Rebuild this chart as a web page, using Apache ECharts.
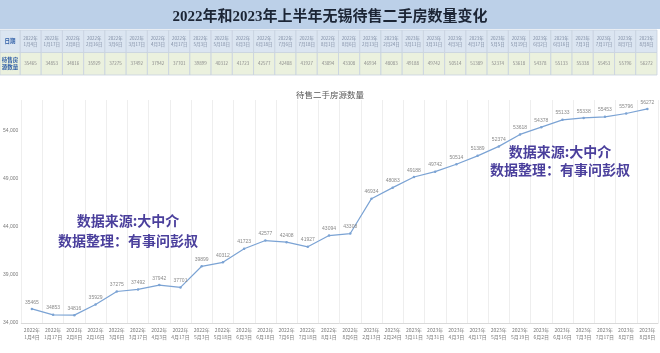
<!DOCTYPE html>
<html>
<head>
<meta charset="utf-8">
<script src="https://cdn.jsdelivr.net/npm/echarts@6/dist/echarts.min.js"></script>
<style>html,body{margin:0;padding:0;background:#fff}#c{width:660px;height:353px}</style>
</head>
<body>
<div id="c"></div>
<script>
const dates = ['2022年1月4日','2022年1月17日','2022年2月8日','2022年2月16日','2022年3月6日','2022年3月17日','2022年4月3日','2022年4月17日','2022年5月3日','2022年5月18日','2022年6月3日','2022年6月18日','2022年7月6日','2022年7月18日','2022年8月1日','2022年8月6日','2023年2月13日','2023年2月24日','2023年3月11日','2023年3月31日','2023年4月3日','2023年4月17日','2023年5月5日','2023年5月19日','2023年6月2日','2023年6月16日','2023年7月3日','2023年7月17日','2023年8月7日','2023年8月8日'];
const counts = [35465,34853,34816,35929,37275,37492,37942,37701,39899,40312,41723,42577,42408,41927,43094,43308,46934,48083,49188,49742,50514,51389,52374,53618,54378,55133,55338,55453,55796,56272];
const rowNames = ['日期','待售房\n源数量'];
const yTicks = {min:34000, max:57200, interval:5000};
const titleText = '2022年和2023年上半年无锡待售二手房数量变化';
const seriesName = '待售二手房源数量';
const notes = ['数据来源:大中介','数据整理：有事问彭叔'];

const fmtDate = d => d.replace('年','年\n');
const rowFill = ['#dbe5f1','#ebf1de'];

const tableData = [];
dates.forEach((d,i)=>{ tableData.push([i,0]); tableData.push([i,1]); });
const labelData = [[0,0],[0,1]];

function cell(params, api, textFn, isLabel){
  const xi = api.value(0), yi = api.value(1);
  const c = api.coord([xi, yi]);
  const s = api.size([1,1]);
  return {
    type:'group',
    children:[
      {type:'rect', shape:{x:c[0]-s[0]/2, y:c[1]-s[1]/2, width:s[0], height:s[1]},
       style:{fill:rowFill[yi], stroke:'#c8d2df', lineWidth:0.8}},
      {type:'text', style:{x:c[0], y:c[1], text:textFn(xi,yi), align:'center', verticalAlign:'middle',
        fontSize:isLabel?5.5:4.5, lineHeight:isLabel?7:6, fill:isLabel?'#2f5ea6':(yi===0?'#7f8ca3':'#8a8a8a'),
        fontWeight:isLabel?'bold':'normal', fontFamily:'Noto Sans CJK SC'}}
    ]
  };
}

const noteStyle = {fill:'#4a3f9c', fontSize:14, fontWeight:'bold', fontFamily:'Noto Sans CJK SC', textAlign:'center'};

const chart = echarts.init(document.getElementById('c'), null, {renderer:'canvas'});
chart.setOption({
  animation:false,
  backgroundColor:'#fff',
  title:[
    {text:titleText, left:'center', top:5, textStyle:{fontSize:15, fontWeight:'bold', color:'#1c2535', fontFamily:'Liberation Serif, Noto Sans CJK SC'}},
    {text:seriesName, left:'center', top:86, textStyle:{fontSize:8.5, fontWeight:'normal', color:'#595959', fontFamily:'Noto Sans CJK SC'}}
  ],
  graphic:[
    {type:'rect', z:-10, shape:{x:0,y:0,width:660,height:29}, style:{fill:'#bcd0e8'}},
    {type:'text', z:50, x:128, y:214, style:Object.assign({text:notes[0]}, noteStyle)},
    {type:'text', z:50, x:128, y:234, style:Object.assign({text:notes[1]}, noteStyle)},
    {type:'text', z:50, x:560, y:145, style:Object.assign({text:notes[0]}, noteStyle)},
    {type:'text', z:50, x:560, y:163, style:Object.assign({text:notes[1]}, noteStyle)}
  ],
  grid:[
    {left:19, right:2, top:100, bottom:30},
    {left:20, right:3, top:30, height:45},
    {left:0, width:20, top:30, height:45}
  ],
  xAxis:[
    {type:'category', gridIndex:0, data:dates, boundaryGap:true,
     axisLine:{lineStyle:{color:'#d9d9d9'}}, axisTick:{show:false},
     splitLine:{show:true, interval:0, lineStyle:{color:'#eeeeee', width:1}},
     axisLabel:{interval:0, formatter:fmtDate, fontSize:5, lineHeight:7, color:'#7a7a7a', margin:4, fontFamily:'Noto Sans CJK SC'}},
    {type:'category', gridIndex:1, data:dates, show:false},
    {type:'category', gridIndex:2, data:['x'], show:false}
  ],
  yAxis:[
    {type:'value', gridIndex:0, min:yTicks.min, max:yTicks.max, interval:yTicks.interval,
     axisLine:{show:false}, axisTick:{show:false}, splitLine:{show:false},
     axisLabel:{fontSize:5, color:'#7a7a7a', margin:3, showMaxLabel:false}},
    {type:'category', gridIndex:1, data:rowNames, inverse:true, show:false},
    {type:'category', gridIndex:2, data:rowNames, inverse:true, show:false}
  ],
  series:[
    {type:'line', name:seriesName, xAxisIndex:0, yAxisIndex:0, data:counts,
     symbol:'circle', symbolSize:2.5, itemStyle:{color:'#7ba3d4'}, lineStyle:{color:'#7ba3d4', width:1.2},
     label:{show:true, position:'top', distance:3, fontSize:5, color:'#8a8a8a'}},
    {type:'custom', xAxisIndex:1, yAxisIndex:1, data:tableData,
     renderItem:(p,api)=>cell(p,api,(xi,yi)=> yi===0 ? fmtDate(dates[xi]) : String(counts[xi]), false)},
    {type:'custom', xAxisIndex:2, yAxisIndex:2, data:labelData,
     renderItem:(p,api)=>cell(p,api,(xi,yi)=> rowNames[yi], true)}
  ]
});
</script>
</body>
</html>
